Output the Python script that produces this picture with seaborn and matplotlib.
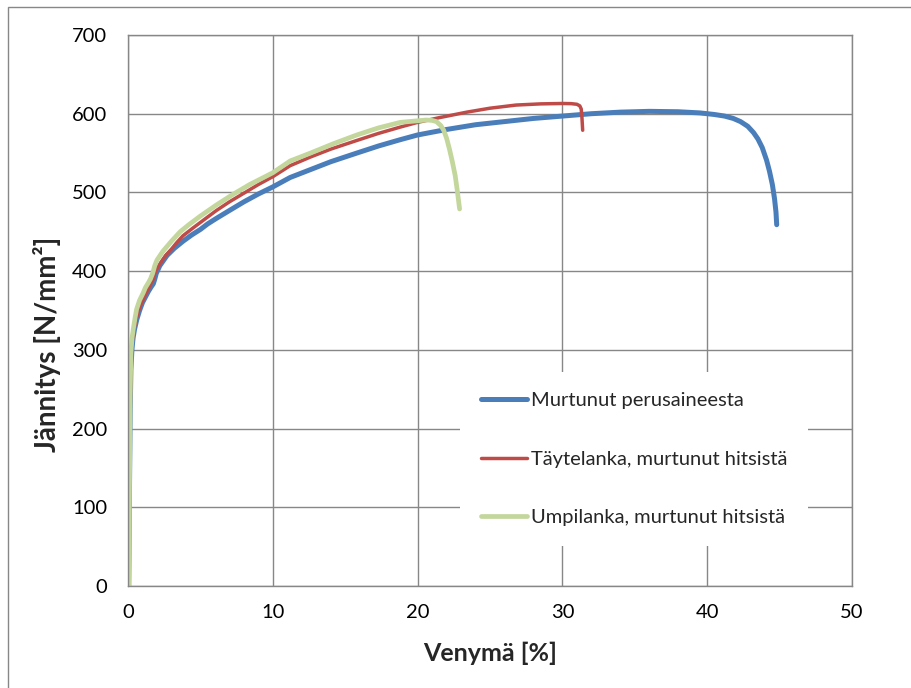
import matplotlib
matplotlib.use("Agg")
import matplotlib.pyplot as plt
import matplotlib.patches as mpatches
import seaborn as sns
import pandas as pd

# ---- data ----
labels = ["Murtunut perusaineesta", "Täytelanka, murtunut hitsistä", "Umpilanka, murtunut hitsistä"]

blue_x = [0.05, 0.1, 0.15, 0.2, 0.27, 0.35, 0.45, 0.6, 0.8, 1.0, 1.2, 1.4, 1.6, 1.75, 1.85, 1.95,
          2.2, 2.7, 3.2, 3.8, 4.4, 5.0, 5.5, 6.1, 7.0, 8.0, 9.0, 10.0, 11.2, 12.6, 14.0, 15.8,
          17.3, 18.8, 20.0, 22.0, 24.0, 26.0, 28.0, 30.0, 32.0, 34.0, 36.0, 38.0, 39.5, 40.5,
          41.2, 41.8, 42.3, 42.8, 43.2, 43.5, 43.8, 44.1, 44.3, 44.5, 44.65, 44.75, 44.8]
blue_y = [0, 120, 220, 275, 300, 315, 326, 338, 350, 360, 367, 374, 380, 384, 390, 397,
          407, 420, 429, 438, 446, 453, 460, 467, 477, 488, 498, 507, 519, 529, 539, 550,
          559, 567, 573, 580, 586, 590, 594, 597, 600, 602, 603, 602.5, 601, 599,
          597, 594, 590, 584, 576, 568, 557, 541, 527, 510, 492, 475, 459]

red_x = [0.05, 0.1, 0.15, 0.22, 0.3, 0.4, 0.55, 0.7, 0.85, 1.0, 1.2, 1.4, 1.6, 1.75, 1.85, 2.0,
         2.3, 2.6, 3.0, 3.4, 3.8, 4.5, 5.3, 6.1, 7.0, 8.0, 9.0, 10.0, 11.2, 12.6, 14.0, 15.8,
         17.3, 18.8, 20.0, 21.5, 23.4, 25.0, 26.8, 28.5, 30.0, 30.6, 31.0, 31.2, 31.3, 31.35, 31.4]
red_y = [0, 110, 220, 290, 312, 325, 338, 348, 356, 362, 370, 377, 385, 390, 397, 403,
         412, 420, 428, 437, 445, 455, 466, 477, 488, 499, 510, 520, 534, 545, 555, 566,
         575, 583, 589, 595, 602, 607, 611, 612.5, 613, 612.8, 612, 610, 606, 595, 579]

green_x = [0.05, 0.1, 0.15, 0.2, 0.28, 0.37, 0.5, 0.6, 0.8, 1.04, 1.2, 1.4, 1.55, 1.7, 1.85, 2.0,
           2.4, 3.0, 3.6, 4.2, 5.0, 6.1, 7.2, 8.4, 10.0, 11.2, 12.6, 14.2, 15.8, 17.3, 18.8,
           20.0, 20.6, 21.0, 21.3, 21.6, 21.8, 22.0, 22.2, 22.4, 22.6, 22.75, 22.9]
green_y = [0, 120, 240, 295, 315, 327, 342, 352, 363, 372, 379, 385, 390, 397, 407, 414,
           425, 438, 450, 459, 470, 484, 497, 510, 525, 540, 550, 562, 573, 582, 589,
           591, 592, 591.5, 590, 585, 579, 569, 555, 539, 521, 501, 479]

colors = ["#4A7EBB", "#BE4B48", "#C3D69B"]
widths = [3.6, 2.5, 3.4]

x_ticks = [0, 10, 20, 30, 40, 50]
y_ticks = [0, 100, 200, 300, 400, 500, 600, 700]

# ---- styling ----
sns.set_theme(style="white")
plt.rcParams["font.family"] = ["Lato", "DejaVu Sans"]
grid_c = "#878787"

fig = plt.figure(figsize=(9.12, 6.88), dpi=100)
ax = fig.add_axes([128 / 912, 1 - 586 / 688, 724 / 912, 551 / 688])

series = [(blue_x, blue_y), (red_x, red_y), (green_x, green_y)]
for (xs, ys), lab, c, lw in zip(series, labels, colors, widths):
    df = pd.DataFrame({"x": xs, "y": ys})
    sns.lineplot(data=df, x="x", y="y", sort=False, estimator=None, color=c,
                 linewidth=lw, label=lab, ax=ax, solid_capstyle="round", solid_joinstyle="round")

ax.set_xlim(0, 50)
ax.set_ylim(0, 700)
ax.set_xticks(x_ticks)
ax.set_yticks(y_ticks)
ax.set_xticklabels([str(v) for v in x_ticks])
ax.set_yticklabels([str(v) for v in y_ticks])
ax.grid(True, color=grid_c, linewidth=1.0)
ax.set_axisbelow(True)
for s in ax.spines.values():
    s.set_color(grid_c)
    s.set_linewidth(1.0)
ax.tick_params(axis="both", which="major", direction="out", length=4, width=1.0,
               color=grid_c, labelsize=14.5, labelcolor="black")
ax.tick_params(axis="y", pad=11)
ax.tick_params(axis="x", pad=9)
ax.set_xlabel("Venymä [%]", fontsize=18, fontweight="bold")
ax.xaxis.set_label_coords(0.5, -(642 - 586) / 551)
ax.set_ylabel("Jännitys [N/mm²]", fontsize=20, fontweight="bold")
ax.yaxis.set_label_coords(-(128 - 61) / 724, (586 - 344) / 551)

leg = ax.legend(loc="center", bbox_to_anchor=((634 - 128) / 724, (586 - 459) / 551), fontsize=14.5,
                frameon=True, fancybox=False, framealpha=1.0, facecolor="white",
                edgecolor="none", labelspacing=2.05, handlelength=2.3,
                handletextpad=0.2, borderpad=1.0)
for line in leg.get_lines():
    line.set_solid_capstyle("round")

# outer chart border
fig.patches.append(mpatches.Rectangle((8 / 912, -0.1), 1.2, 1.1 - 7 / 688, transform=fig.transFigure,
                                      fill=False, edgecolor=grid_c, linewidth=1.0))

fig.savefig("out.png", dpi=100, facecolor="white")
